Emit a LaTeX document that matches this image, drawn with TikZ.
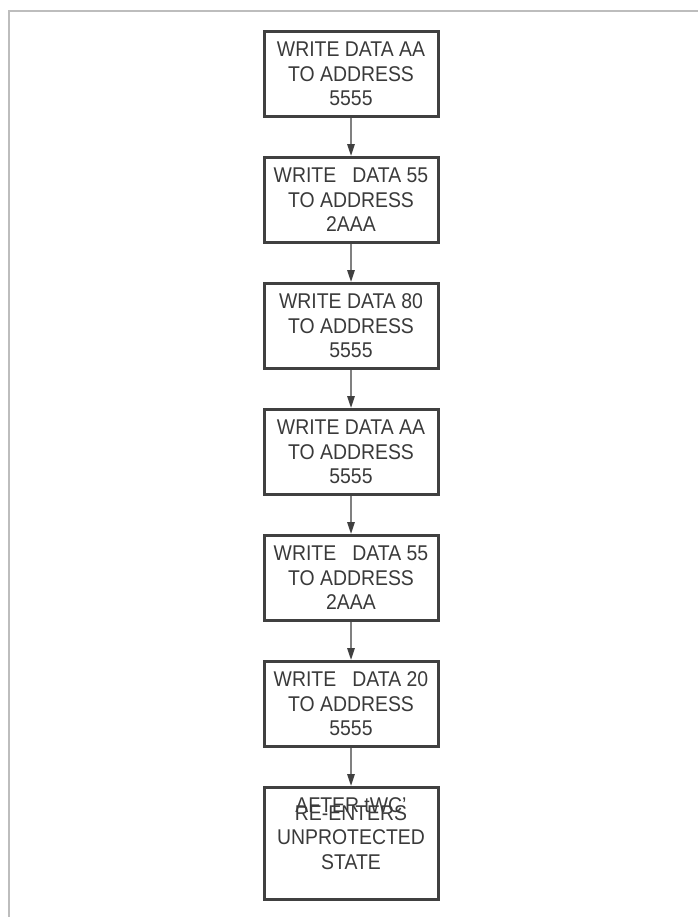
\documentclass[tikz,border=0pt]{standalone}
\usepackage{fontspec}
\setmainfont{Liberation Sans}[FakeStretch=0.91]
\usepackage{xcolor}
\usetikzlibrary{arrows.meta, positioning}

\definecolor{boxline}{HTML}{404040}
\definecolor{inktext}{HTML}{3A3A3A}
\definecolor{frameline}{HTML}{BDBDBD}
\definecolor{arrowline}{HTML}{808080}

\begin{document}
\begin{tikzpicture}[node distance=28.5pt,
    every node/.style={font=\fontsize{16}{18.4}\selectfont, text=inktext},
    stepbox/.style={draw=boxline, line width=2.25pt, minimum width=130.5pt,
                    minimum height=63.75pt, align=center, inner sep=0pt},
    flow/.style={draw=arrowline, line width=1.4pt,
                 -{Triangle[length=9pt, width=5.5pt, color=boxline]}}]
  \useasboundingbox (0,0) rectangle (523.5pt,-687.75pt);
  % page frame
  \draw[frameline, line width=1.5pt] (523.5pt,-7.9pt) -- (6.4pt,-7.9pt) -- (6.4pt,-687.75pt);
  % command sequence
  \node[stepbox] (w1) at (263.25pt,-55.5pt) {WRITE DATA AA\\TO ADDRESS\\5555};
  \node[stepbox, below=of w1] (w2) {WRITE\ \ \ DATA 55\\TO ADDRESS\\2AAA};
  \node[stepbox, below=of w2] (w3) {WRITE DATA 80\\TO ADDRESS\\5555};
  \node[stepbox, below=of w3] (w4) {WRITE DATA AA\\TO ADDRESS\\5555};
  \node[stepbox, below=of w4] (w5) {WRITE\ \ \ DATA 55\\TO ADDRESS\\2AAA};
  \node[stepbox, below=of w5] (w6) {WRITE\ \ \ DATA 20\\TO ADDRESS\\5555};
  \node[stepbox, minimum height=84pt, below=of w6] (w7) {};
  \node[align=center] (w7txt) at ([yshift=4.5pt]w7.center) {RE-ENTERS\\UNPROTECTED\\STATE};
  \node (w7pre) at ([yshift=29pt]w7.center) {AFTER tWC'};
  \draw[flow] (w1) -- (w2);
  \draw[flow] (w2) -- (w3);
  \draw[flow] (w3) -- (w4);
  \draw[flow] (w4) -- (w5);
  \draw[flow] (w5) -- (w6);
  \draw[flow] (w6) -- (w7);
\end{tikzpicture}
\end{document}
